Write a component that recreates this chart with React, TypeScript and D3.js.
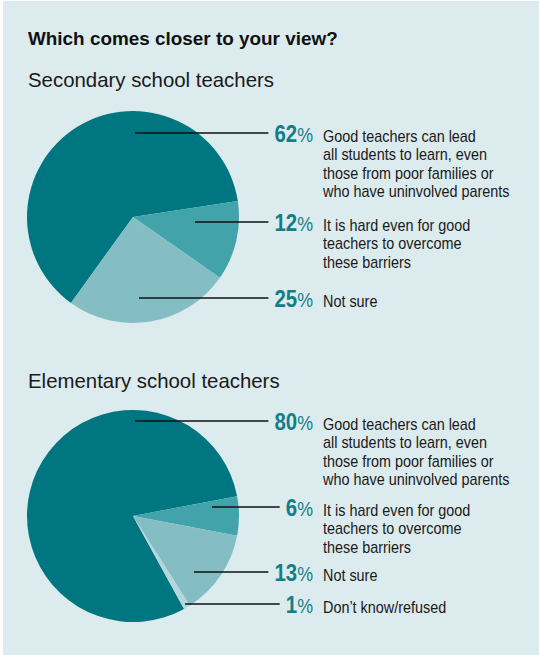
import React from "react";
import * as d3 from "d3";

const title = "Which comes closer to your view?";
const groupTitles = ["Secondary school teachers", "Elementary school teachers"];

const secondaryValues = [62, 12, 25];
const secondaryLabels = [
  ["Good teachers can lead", "all students to learn, even", "those from poor families or", "who have uninvolved parents"],
  ["It is hard even for good", "teachers to overcome", "these barriers"],
  ["Not sure"],
];

const elementaryValues = [80, 6, 13, 1];
const elementaryLabels = [
  ["Good teachers can lead", "all students to learn, even", "those from poor families or", "who have uninvolved parents"],
  ["It is hard even for good", "teachers to overcome", "these barriers"],
  ["Not sure"],
  ["Don\u2019t know/refused"],
];

const sliceColors = ["#007780", "#43a3ab", "#84bec4", "#b4d7db"];

// layout (positions only)
const pies = [
  {
    values: secondaryValues,
    labels: secondaryLabels,
    cx: 133,
    cy: 217,
    startDeg: 81.3 - (62 / 99) * 360,
    titleY: 87,
    lineY: [133, 222, 298],
    lineX0: [135, 195, 139],
  },
  {
    values: elementaryValues,
    labels: elementaryLabels,
    cx: 133,
    cy: 516,
    startDeg: 79.2 - 0.8 * 360,
    titleY: 388,
    lineY: [421, 507, 572, 604],
    lineX0: [135, 212, 194, 185],
  },
];

const R = 106;
const NUM_RIGHT = 313;
const TEXT_X = 323;
const LINE_H = 18.6;

const font = "'Liberation Sans', Arial, sans-serif";

export default function App() {
  const arc = d3.arc<any>().innerRadius(0).outerRadius(R);
  return (
    <svg
      width={539}
      height={655}
      style={{ position: "absolute", left: 0, top: 0, display: "block" }}
    >
      <rect x={3} y={1} width={536} height={654} fill="#dcebee" />
      <text x={28} y={45} fontFamily={font} fontWeight="bold" fontSize={18.9} fill="#111">
        {title}
      </text>
      {pies.map((p, pi) => {
        const start = (p.startDeg * Math.PI) / 180;
        const pie = d3
          .pie<number>()
          .sort(null)
          .startAngle(start)
          .endAngle(start + 2 * Math.PI)
          .value((d) => d);
        const arcs = pie(p.values);
        return (
          <g key={pi}>
            <text x={28} y={p.titleY} fontFamily={font} fontSize={20.4} fill="#1a1a1a">
              {groupTitles[pi]}
            </text>
            <g transform={`translate(${p.cx},${p.cy})`}>
              {arcs.map((a, i) => (
                <path key={i} d={arc(a) || ""} fill={sliceColors[i]} />
              ))}
            </g>
            {p.values.map((v, i) => {
              const y = p.lineY[i];
              const numStr = String(v);
              const numW = numStr.length * 11.3 + 16;
              return (
                <g key={i}>
                  <line
                    x1={p.lineX0[i]}
                    x2={NUM_RIGHT - numW - 6}
                    y1={y}
                    y2={y}
                    stroke="#111"
                    strokeWidth={1.3}
                  />
                  <text
                    transform={`translate(${NUM_RIGHT},${y + 8.5}) scale(0.85,1)`}
                    textAnchor="end"
                    fontFamily={font}
                    fill="#137e86"
                  >
                    <tspan fontWeight="bold" fontSize={24}>{numStr}</tspan>
                    <tspan fontSize={21}>%</tspan>
                  </text>
                  <text
                    transform={`translate(${TEXT_X},${y + 8.5}) scale(0.9,1)`}
                    fontFamily={font}
                    fontSize={16}
                    fill="#1a1a1a"
                  >
                    {p.labels[i].map((l, li) => (
                      <tspan key={li} x={0} dy={li === 0 ? 0 : LINE_H}>
                        {l}
                      </tspan>
                    ))}
                  </text>
                </g>
              );
            })}
          </g>
        );
      })}
    </svg>
  );
}
